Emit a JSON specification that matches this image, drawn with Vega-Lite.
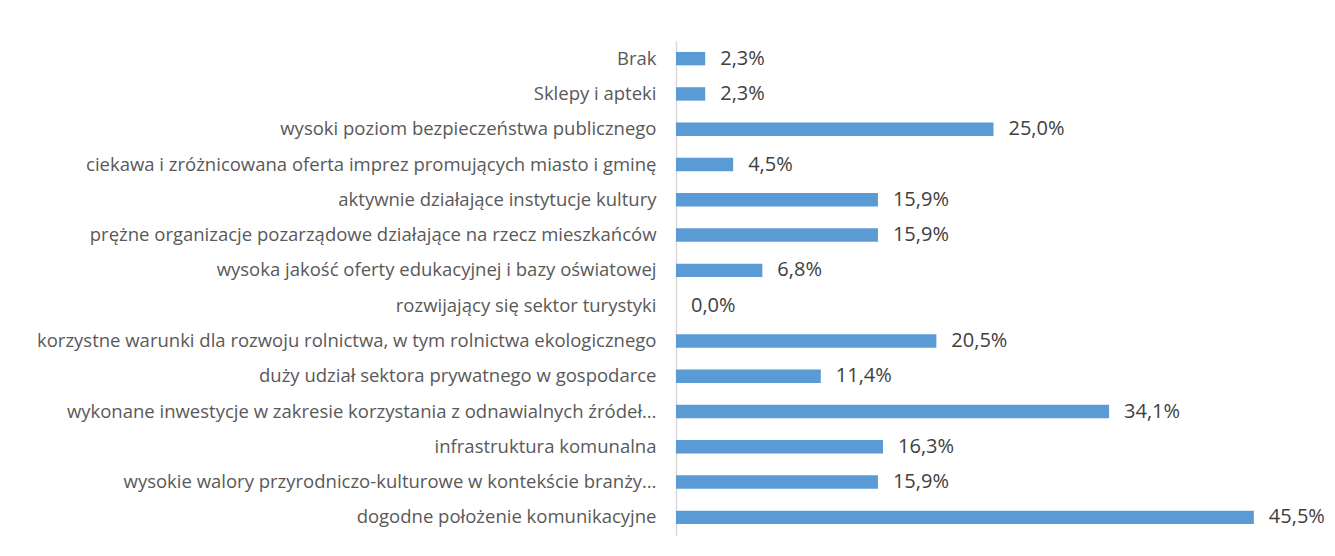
{
  "$schema": "https://vega.github.io/schema/vega-lite/v6.json",
  "autosize": "none",
  "width": 635,
  "height": 494,
  "padding": {"left": 676, "top": 41, "right": 24, "bottom": 21},
  "background": "white",
  "config": {
    "locale": {"number": {"decimal": ",", "thousands": " ", "grouping": [3], "currency": ["", " zł"]}},
    "view": {"stroke": null},
    "font": "Open Sans"
  },
  "data": {
    "values": [
      {"kategoria": "Brak", "wartosc": 0.023},
      {"kategoria": "Sklepy i apteki", "wartosc": 0.023},
      {"kategoria": "wysoki poziom bezpieczeństwa publicznego", "wartosc": 0.25},
      {"kategoria": "ciekawa i zróżnicowana oferta imprez promujących miasto i gminę", "wartosc": 0.045},
      {"kategoria": "aktywnie działające instytucje kultury", "wartosc": 0.159},
      {"kategoria": "prężne organizacje pozarządowe działające na rzecz mieszkańców", "wartosc": 0.159},
      {"kategoria": "wysoka jakość oferty edukacyjnej i bazy oświatowej", "wartosc": 0.068},
      {"kategoria": "rozwijający się sektor turystyki", "wartosc": 0.0},
      {"kategoria": "korzystne warunki dla rozwoju rolnictwa, w tym rolnictwa ekologicznego", "wartosc": 0.205},
      {"kategoria": "duży udział sektora prywatnego w gospodarce", "wartosc": 0.114},
      {"kategoria": "wykonane inwestycje w zakresie korzystania z odnawialnych źródeł…", "wartosc": 0.341},
      {"kategoria": "infrastruktura komunalna", "wartosc": 0.163},
      {"kategoria": "wysokie walory przyrodniczo-kulturowe w kontekście branży…", "wartosc": 0.159},
      {"kategoria": "dogodne położenie komunikacyjne", "wartosc": 0.455}
    ]
  },
  "encoding": {
    "y": {
      "field": "kategoria",
      "type": "nominal",
      "sort": null,
      "title": null,
      "scale": {"paddingInner": 0.62, "paddingOuter": 0.31},
      "axis": {
        "domain": true,
        "domainColor": "#D9D9D9",
        "domainWidth": 1.5,
        "ticks": false,
        "labelPadding": 20,
        "labelFontSize": 18.5,
        "labelColor": "#595959",
        "labelLimit": 700,
        "labelFont": "Open Sans"
      }
    },
    "x": {
      "field": "wartosc",
      "type": "quantitative",
      "scale": {"domain": [0, 0.5]},
      "axis": null
    }
  },
  "layer": [
    {"mark": {"type": "bar", "color": "#5B9BD5"}},
    {
      "mark": {"type": "text", "align": "left", "baseline": "middle", "dx": 15, "fontSize": 20, "color": "#404040", "font": "Open Sans"},
      "encoding": {"text": {"field": "wartosc", "type": "quantitative", "format": ".1%"}}
    }
  ]
}
